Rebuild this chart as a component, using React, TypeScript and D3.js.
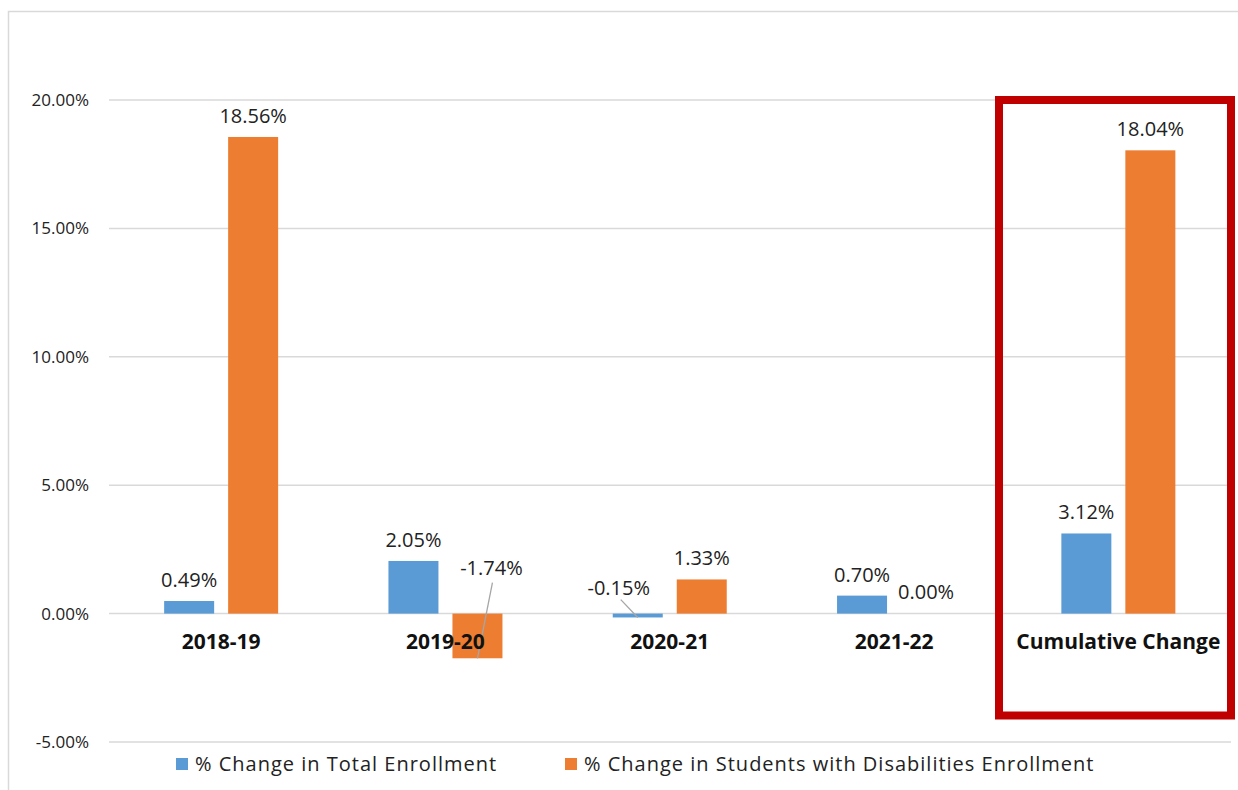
import React from "react";
import * as d3 from "d3";

const categories = ["2018-19", "2019-20", "2020-21", "2021-22", "Cumulative Change"];
const totalEnrollment = [0.49, 2.05, -0.15, 0.7, 3.12];
const swdEnrollment = [18.56, -1.74, 1.33, 0.0, 18.04];
const seriesNames = ["% Change in Total Enrollment", "% Change in Students with Disabilities Enrollment"];
const seriesColors = ["#5b9bd5", "#ed7d31"];
const yTicks = [-5, 0, 5, 10, 15, 20];

const W = 1238;
const H = 790;
const FONT = "'Open Sans', sans-serif";

const fmt = (v: number) => (v < 0 ? "-" : "") + Math.abs(v).toFixed(2) + "%";

export default function App() {
  const x = d3.scaleBand<string>().domain(categories).range([109, 1230.5]).padding(0);
  const bw = x.bandwidth();
  const xs = d3
    .scaleBand<number>()
    .domain([0, 1])
    .range([bw / 2 - 57, bw / 2 + 57])
    .paddingInner(0.21875)
    .paddingOuter(0);
  const y = d3.scaleLinear().domain([-5, 20]).range([742, 100]);
  const series = [totalEnrollment, swdEnrollment];

  // custom label placement (leader lines) for specific negative values
  const labelFor = (si: number, ci: number, v: number) => {
    const cx = (x(categories[ci]) as number) + (xs(si) as number) + xs.bandwidth() / 2;
    const top = y(Math.max(0, v));
    const bottom = y(Math.min(0, v));
    if (si === 1 && ci === 1) {
      return { tx: cx + 14, ty: y(0) - 39, line: [cx + 15, y(0) - 31, cx, bottom] };
    }
    if (si === 0 && ci === 2) {
      return { tx: cx - 19, ty: y(0) - 19, line: [cx - 17, y(0) - 14, cx, bottom] };
    }
    if (v === 0) {
      return { tx: cx, ty: top - 15, line: null };
    }
    return { tx: cx, ty: top - 14, line: null };
  };

  return (
    <svg
      width={W}
      height={H}
      style={{ position: "absolute", left: 0, top: 0, background: "#fff" }}
      fontFamily={FONT}
    >
      <rect x={0} y={0} width={W} height={H} fill="#fff" />
      <rect x={8.5} y={11.5} width={1240} height={800} fill="none" stroke="#d9d9d9" strokeWidth={1.5} />

      {yTicks.map((t) => (
        <g key={t}>
          <line x1={109} x2={1231} y1={y(t)} y2={y(t)} stroke="#d9d9d9" strokeWidth={1.5} />
          <text x={89} y={y(t) + 6} textAnchor="end" fontSize={17} fill="#222">
            {fmt(t)}
          </text>
        </g>
      ))}

      {series.map((vals, si) =>
        vals.map((v, ci) => {
          const bx = (x(categories[ci]) as number) + (xs(si) as number);
          const y0 = y(Math.max(0, v));
          const y1 = y(Math.min(0, v));
          return (
            <rect
              key={`b${si}-${ci}`}
              x={bx}
              y={y0}
              width={xs.bandwidth()}
              height={Math.max(0, y1 - y0)}
              fill={seriesColors[si]}
            />
          );
        })
      )}

      {series.map((vals, si) =>
        vals.map((v, ci) => {
          const l = labelFor(si, ci, v);
          return (
            <g key={`l${si}-${ci}`}>
              {l.line && (
                <line
                  x1={l.line[0]}
                  y1={l.line[1]}
                  x2={l.line[2]}
                  y2={l.line[3]}
                  stroke="#a6a6a6"
                  strokeWidth={1.3}
                />
              )}
              <text x={l.tx} y={l.ty} textAnchor="middle" fontSize={20} fill="#222">
                {fmt(v)}
              </text>
            </g>
          );
        })
      )}

      {categories.map((c) => (
        <text
          key={c}
          x={(x(c) as number) + bw / 2}
          y={649}
          textAnchor="middle"
          fontSize={21}
          fontWeight="bold"
          fill="#111"
        >
          {c}
        </text>
      ))}

      <rect x={999} y={100} width={232} height={615.5} fill="none" stroke="#c00000" strokeWidth={8} />

      {seriesNames.map((n, i) => {
        const lx = i === 0 ? 176 : 565;
        return (
          <g key={n}>
            <rect x={lx} y={758} width={12} height={12} fill={seriesColors[i]} />
            <text x={lx + 19} y={771} fontSize={20} letterSpacing={1} fill="#222">
              {n}
            </text>
          </g>
        );
      })}
    </svg>
  );
}
